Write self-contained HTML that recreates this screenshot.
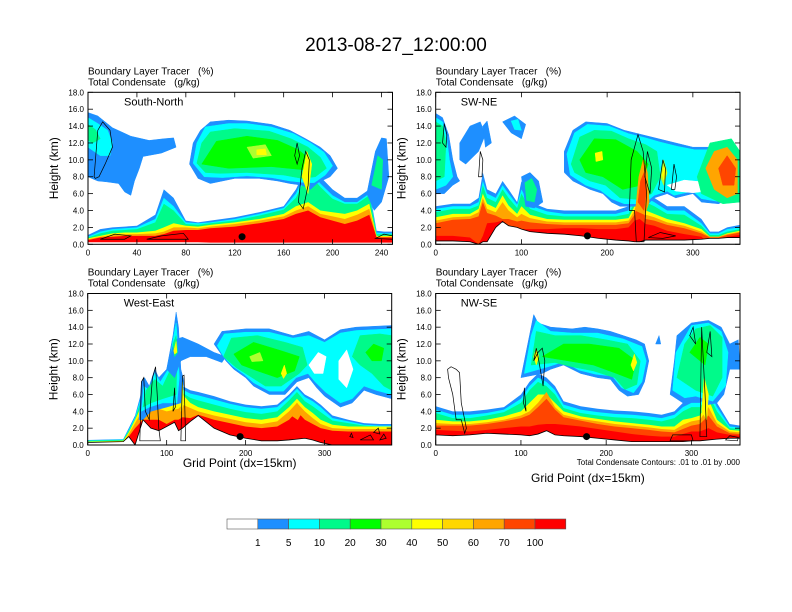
<!DOCTYPE html>
<html><head><meta charset="utf-8"><style>
body{margin:0;background:#fff;}
svg{display:block;font-family:"Liberation Sans",sans-serif;}
svg text{white-space:pre;}
</style></head><body>
<svg id="fig" width="792" height="612" viewBox="0 0 792 612">
<text x="396" y="51" font-size="19" text-anchor="middle">2013-08-27_12:00:00</text>
<g id="panels"></g>
<g id="colorbar"></g>
</svg>
<script>
const levelColors=["#ffffff","#1e8fff","#00ffff","#00fa8a","#00ff00","#adff2f","#ffff00","#ffd700","#ffa500","#ff4500","#ff0000"];
const cbLabels=["1","5","10","20","30","40","50","60","70","100"];
const yTicks=[0,2,4,6,8,10,12,14,16,18];

// ---- Panel 1: South-North ----
const p1Xs=[0,10,20,30,40,55,62,70,80,90,100,120,140,160,170,180,190,200,210,220,230,236,242,249];
const p1Terrain=[0.25,0.25,0.25,0.25,0.25,0.25,0.25,0.25,0.25,0.25,0.2,0.2,0.2,0.2,0.2,0.2,0.2,0.2,0.2,0.2,0.2,0.2,0.2,0.2];
const p1Blue=[1.1,1.8,2.0,2.1,2.2,3.5,6.5,5.5,2.8,2.6,2.8,3.2,3.8,4.5,6.5,9.5,8,6.5,5.5,5.5,6.5,1.6,1.5,1.5];
const p1Cyan=[0.9,1.5,1.8,1.9,2.0,3.0,5.5,4.5,2.6,2.5,2.6,3.0,3.6,4.3,6,9,7.2,5.8,5,5,6,1.4,1.3,1.3];
const p1Green=[0.8,1.3,1.6,1.7,1.8,2.6,4.8,4,2.4,2.3,2.5,2.8,3.4,4.1,5.5,8.5,6.8,5.4,4.8,4.8,5.8,1.2,1.2,1.2];
const p1Yellow=[0.7,1.0,1.3,1.4,1.4,1.6,2.0,2.5,2.2,2.1,2.3,2.6,3.0,3.6,4.5,5,4,3.8,3.6,4,4.8,1.0,1.0,1.0];
const p1Orange=[0.6,0.9,1.1,1.2,1.2,1.3,1.5,2.0,2.0,1.9,2.1,2.4,2.8,3.3,4.0,4.5,3.6,3.3,3.0,3.5,4.2,0.9,0.9,0.9];
const p1Red=[0.5,0.8,0.9,1.0,1.0,1.0,1.2,1.6,1.7,1.7,1.9,2.1,2.5,3.0,3.6,4,3.2,2.8,2.4,2.8,3.5,0.8,0.8,0.8];
const p1Clouds=[
 [1,[[0,15.6],[8,15.2],[20,13.8],[35,12.8],[50,12.3],[62,12.5],[70,12.6],[72,11.5],[60,10.8],[45,10.4],[42,9],[38,7.5],[35,5.8],[30,6.2],[25,7.2],[15,7.4],[8,7.5],[3,7.8],[0,8]]],
 [2,[[0,15],[8,14.3],[16,13.5],[20,12],[18,10.5],[10,10.5],[5,11],[0,11.5]]],
 [3,[[0,14.2],[6,13.6],[10,12.5],[4,12],[0,12.3]]],
 [1,[[83,9.5],[86,12],[92,13.5],[100,14.5],[115,14.7],[130,14.6],[150,14.2],[165,13.5],[178,12.5],[190,11.5],[198,10.5],[204,9],[198,8],[188,7.3],[182,6.5],[175,7],[165,7.2],[155,7.5],[140,7.8],[120,7.8],[100,7.2],[90,7.8]]],
 [2,[[86,9.6],[89,12],[96,13.9],[115,14.3],[130,14.3],[150,13.9],[168,13.1],[182,12],[193,10.9],[200,9.3],[194,8.2],[185,7.3],[178,7.3],[165,7.5],[150,7.9],[130,8.1],[110,7.9],[95,8]]],
 [3,[[89,9.6],[93,12],[100,13.3],[120,13.7],[148,13.4],[166,12.5],[180,11.5],[190,10.3],[195,9],[186,8],[175,7.8],[160,8.2],[130,8.5],[108,8.4],[96,8.5]]],
 [4,[[93,9.5],[105,12.2],[130,12.8],[155,12.3],[172,11.2],[182,10],[178,8.8],[150,9.2],[115,9]]],
 [5,[[130,11.5],[145,11.8],[150,10.5],[135,10.2]]],
 [6,[[138,11.2],[145,11.3],[146,10.6],[138,10.6]]],
 [1,[[228,6],[235,11],[240,12.6],[244,12.5],[246,8],[240,5],[234,4]]],
 [3,[[232,7],[237,10.5],[241,10],[240,6.5]]],
 [6,[[175,8],[179,11],[183,9.5],[180,6]]]
];
const p1Contours=[
 [[5,8],[8,13.5],[12,14.5],[18,13.5],[20,11.5],[14,9.5],[9,8],[6,7.8]],
 [[172,5],[175,9],[178,11],[181,10],[180,7],[176,4.2]],
 [[169,10.5],[171,12],[173,10.5],[171,9.5]],
 [[10,0.6],[22,1.2],[35,1.0],[30,0.6]],
 [[48,0.6],[60,1.0],[78,1.3],[82,0.6]],
 [[235,0.7],[242,1.2],[249,1.0],[249,0.6]]
];
const p1Dot=[126,0.9];

// ---- Panel 2: SW-NE ----
const p2Xs=[0,20,40,50,55,60,70,78,85,95,100,110,130,150,170,190,210,225,232,238,245,255,270,290,310,320,330,340,355];
const p2Terrain=[0.4,0.4,0.3,0,0.3,0.3,2.0,2.7,2.2,2.0,1.8,1.5,1.3,1.2,1.0,0.7,0.5,0.4,0.3,0.3,0.5,0.5,0.5,0.5,0.6,0.7,0.7,0.8,0.8];
const p2Blue=[4.5,4.8,4.8,5.5,8.5,6.5,6,7.5,6.5,5,7.5,5,4.2,4,4,4,4,4.5,6,9,6,5.5,4.5,4.5,3,1.5,1.5,2,2.3];
const p2Cyan=[4.2,4.5,4.5,5,7.5,6,5.5,7,6,4.7,6.5,4.6,3.9,3.6,3.6,3.6,3.6,4,5.5,8,5.5,5,4,4,2.5,1.3,1.3,1.8,2];
const p2Green=[3.8,4.2,4.2,4.6,7,5.5,5,6.5,5.5,4.3,6,4.2,3.5,3.3,3.3,3.3,3.3,3.6,5,7.5,5,4.5,3.6,3.5,2.2,1.1,1.1,1.5,1.8];
const p2Yellow=[3.2,3.6,3.6,4.2,6,4.8,4.3,5.8,4.6,3.6,4.5,3.5,3,2.9,2.9,2.9,2.9,3.1,4.5,7,4,3.6,3,2.5,1.8,0.9,0.9,1.3,1.6];
const p2Orange=[2.8,3.2,3.3,3.8,5.5,4.2,3.8,5,4,3.2,3.6,3.1,2.7,2.6,2.6,2.6,2.6,2.8,4,6.5,3.5,3.2,2.6,2.2,1.5,0.9,0.9,1.2,1.5];
const p2OrRed=[2.5,2.9,3,3.3,5,3.7,3.4,3,3,2.7,2.8,2.6,2.4,2.3,2.3,2.3,2.3,2.5,3.5,6,3,2.8,2.3,1.9,1.3,0.8,0.8,1.1,1.4];
const p2Red=[1,1,0.8,0,1,2.5,2.6,2.8,2.2,2,1.8,1.8,1.8,1.9,1.9,1.8,1.8,2,2.8,3,2.4,2.2,1.6,1.2,0.9,0,0,0.9,1.1];
const p2Clouds=[
 [1,[[0,15.5],[8,15],[15,13],[20,10],[25,8],[28,7.5],[20,7],[10,6],[0,6]]],
 [2,[[0,15],[8,14.5],[13,12.5],[16,10],[20,8],[12,7],[0,6.5]]],
 [3,[[0,14.5],[8,14],[12,12],[10,8],[0,7.5]]],
 [1,[[28,12],[40,14],[52,14.5],[58,13],[50,11],[35,9.5],[28,10]]],
 [1,[[55,14],[60,14.6],[65,12],[58,11.5]]],
 [1,[[78,14.5],[92,15.2],[105,14.2],[100,12.5],[88,13.2]]],
 [2,[[88,14.6],[96,14.8],[100,13.5],[92,13.6]]],
 [1,[[100,8],[110,8.5],[120,7.5],[125,5],[115,4.3],[105,4.5]]],
 [3,[[104,7.3],[112,7.8],[118,6.5],[115,5],[106,5.2]]],
 [1,[[150,11],[160,13.5],[175,14.5],[200,14.3],[220,13.5],[240,13],[260,12.5],[280,12],[300,11.5],[320,11.5],[335,12],[350,11.5],[355,8],[345,5.5],[330,4.8],[310,5],[300,6],[280,5.5],[270,6],[255,5.5],[245,4.5],[230,4.5],[215,4.5],[205,5],[195,6],[180,6.5],[160,7.5],[150,8.5]]],
 [2,[[153,10.7],[162,13.2],[177,14.2],[202,14],[225,13.1],[245,12.6],[262,12.1],[282,11.6],[302,11.2],[325,11.2],[350,11],[353,7.5],[343,5.7],[328,5.1],[310,5.4],[300,6.3],[278,5.8],[270,6.3],[255,5.8],[243,4.8],[220,4.8],[205,5.4],[192,6.4],[175,7],[157,8.2]]],
 [0,[[270,7],[290,7.6],[320,7.3],[332,6.5],[300,6.1],[280,6.3]]],
 [3,[[158,9.5],[168,12.7],[185,13.5],[205,13.4],[225,12.5],[245,11.8],[258,11],[262,8],[252,6],[238,5.3],[215,5.5],[198,7],[180,7.5],[162,8.5]]],
 [4,[[168,10],[185,12.5],[210,12.4],[235,11],[248,9.5],[240,7],[218,6.5],[195,8],[175,8.5]]],
 [6,[[186,10.8],[194,11],[195,10],[187,9.8]]],
 [3,[[305,8],[320,12],[345,12.5],[355,11],[355,5],[335,4.8],[310,6]]],
 [8,[[315,9],[325,11],[340,11.5],[352,10],[352,6],[340,5.5],[325,6.5]]],
 [9,[[330,9],[340,10.5],[350,9],[348,7],[335,7]]],
 [8,[[233,4],[237,8],[242,10],[247,8.5],[249,5],[244,3.5]]],
 [9,[[236,5],[239,7.5],[243,8.5],[246,6.5],[243,4]]],
 [5,[[262,8],[266,10],[270,8.5],[266,7]]],
 [6,[[264,8.3],[267,9.5],[269,8.3],[266,7.6]]]
];
const p2Contours=[
 [[8,12],[10,14.3],[13,13],[12,11.5]],
 [[50,8],[52,11],[55,10],[54,8]],
 [[226,4],[228,10],[236,13],[242,11],[246,6],[243,0.3],[234,0.3],[232,4]],
 [[244,8],[247,11],[252,9],[250,6]],
 [[260,6.5],[265,10],[268,9],[267,6.2]],
 [[275,6.5],[278,9.5],[281,8],[279,6.5]],
 [[248,0.8],[262,1.4],[280,1.0],[265,0.7]]
];
const p2Dot=[177,1.0];

// ---- Panel 3: West-East ----
const p3Xs=[0,45,52,60,70,80,90,100,110,115,120,130,140,160,180,200,220,240,255,265,275,285,295,310,330,350,370,385];
const p3Terrain=[0.3,0.4,1.0,0.0,3.0,2.0,1.7,2.2,2.7,1.7,2.0,2.8,3.5,2.0,1.2,0.8,0.5,0.5,0.6,0.7,0.8,0.6,0.3,0,0,0,0,0];
const p3Blue=[0.6,0.7,2,3.5,7,7,8,5.5,8,8.5,7,6.5,6.3,5.8,5.2,4.8,4.6,4.8,6,7,6,5.5,4.8,3.5,3,2.6,2.5,2.5];
const p3Cyan=[0.55,0.65,1.8,3.3,6.5,6.5,7.5,5.2,7.5,8,6.6,6.1,5.9,5.4,4.9,4.5,4.3,4.5,5.7,6.7,5.7,5.2,4.5,3.2,2.8,2.4,2.3,2.3];
const p3Green=[0.5,0.6,1.7,3.1,6,6,6.8,4.9,6.5,7,6.2,5.6,5.3,4.8,4.3,3.9,3.7,4,5.3,6.3,5.2,4.6,3.9,2.9,2.6,2.3,2.2,2.2];
const p3Yellow=[0.4,0.5,1.5,3,5,5,5,4.5,5,5,6,5,4.5,4,3.6,3.2,3.0,3.3,4.5,5.5,4.5,3.8,3,2.4,2.2,2.2,2.2,2.2];
const p3Orange=[0.3,0.4,1.3,2.6,4.2,4.2,4.3,4,4.2,4.3,4.8,4.4,4,3.5,3.1,2.7,2.5,2.8,4,5,4,3.2,2.5,2.0,1.9,1.9,1.9,1.9];
const p3Red=[0,0,1,2,3,3,3,2.5,3,3,3.3,3.2,3.6,3,2.6,2.2,2,2.2,3,4,3,2.5,2.0,1.7,1.6,1.6,1.6,1.6];
const p3Clouds=[
 [1,[[65,3],[68,7.5],[72,8],[78,7],[85,9],[90,8],[100,9],[108,13],[112,15.8],[115,14],[118,9],[122,7.5],[118,5],[100,4.5],[80,4],[70,3]]],
 [2,[[68,4],[71,7],[78,6.5],[85,8.5],[92,7.5],[102,9],[108,12.5],[112,14.5],[114,12],[116,8],[113,5],[95,5],[78,4.5]]],
 [3,[[70,4.5],[74,6.5],[85,7.8],[95,7],[105,9],[110,12],[113,10],[112,6],[95,5.5],[80,5]]],
 [1,[[100,9],[110,12.5],[120,12.8],[140,12],[160,11],[175,10.5],[170,9.8],[150,10.5],[130,10.5],[118,10],[110,8]]],
 [1,[[160,12],[170,13.5],[200,13.8],[230,13.8],[260,13],[280,13.5],[300,12.5],[320,13.7],[340,14],[385,14.2],[385,5.5],[365,6],[350,6.5],[335,5],[320,4.5],[300,5.8],[290,6.8],[280,8],[265,7.5],[250,6],[230,6],[210,7],[200,8],[185,9],[175,10]]],
 [2,[[164,11.8],[173,13.2],[200,13.4],[230,13.4],[260,12.7],[280,13],[300,12.2],[320,13.3],[340,13.6],[385,13.8],[385,6],[365,6.5],[350,7],[335,5.5],[320,5],[301,6.3],[288,7.5],[279,8.5],[264,8],[248,6.4],[230,6.4],[210,7.4],[198,8.4],[183,9.4],[172,10.5]]],
 [0,[[280,9.5],[292,11],[302,10.5],[298,8.5],[287,8.5]]],
 [0,[[318,10],[328,11.3],[336,9],[328,6.8],[318,7.8]]],
 [3,[[172,10.5],[182,12.7],[215,13],[250,12.2],[272,11.6],[278,9.5],[268,8.5],[245,7],[225,7],[205,8.2],[188,9.2]]],
 [4,[[185,10.8],[210,12.2],[245,11.2],[268,10.5],[262,8.8],[240,8],[215,8.8],[195,9.5]]],
 [5,[[205,10.5],[218,11],[222,10],[208,9.9]]],
 [6,[[245,8.5],[249,9.5],[252,8.5],[248,7.9]]],
 [3,[[335,10.5],[345,13],[370,13.2],[385,13],[385,6.5],[375,7],[360,8.5],[345,9.5]]],
 [4,[[352,11],[362,12],[375,11.5],[372,10],[360,10]]],
 [3,[[108,12],[112,13],[114,11],[110,10.5]]],
 [6,[[109,11.2],[112,12.3],[113,11],[110,10.8]]],
 [6,[[118,4],[120,7.5],[122,5]]],
 [8,[[258,3.5],[265,5],[272,4],[266,3]]]
];
const p3Contours=[
 [[66,0.5],[68,7.5],[71,8],[73,4],[78,3],[82,8],[86,9.3],[88,6],[90,2],[92,0.5]],
 [[118,0.5],[120,8.2],[122,8.3],[124,0.5]],
 [[108,4],[110,6.8],[111,4.5]],
 [[332,1],[334,1.4],[336,0.9]],
 [[345,0.6],[358,1.2],[362,0.6]],
 [[362,1.5],[368,2],[370,1.3]],
 [[370,0.6],[375,1.3],[378,0.8]]
];
const p3Dot=[193,1.0];

// ---- Panel 4: NW-SE ----
const p4Xs=[0,20,40,60,80,100,110,120,130,140,150,170,190,210,230,250,265,280,290,300,310,320,330,345,357];
const p4Terrain=[1.2,1.1,1.2,1.4,1.3,1.2,1.1,1.3,1.7,1.2,1.1,1.0,0.8,0.6,0.4,0.4,0.4,0.4,0.4,0.5,0.5,0.6,0.7,0.8,0.8];
const p4Blue=[4.6,4,4,4.2,4.5,6,7.5,8.5,8,7,5.2,4.6,4.3,4.1,4.0,3.8,3.6,4.0,5,5.5,5.5,7,5,2.5,2.3];
const p4Cyan=[4.2,3.6,3.6,3.8,4.2,5.5,7,8,7.5,6.5,4.8,4.2,3.9,3.7,3.6,3.4,3.2,3.6,4.5,5,5,6.5,4.5,2.2,2.1];
const p4Green=[3.8,3.2,3.2,3.5,3.9,5,6.5,7.5,7,6,4.4,3.8,3.5,3.3,3.2,3.0,2.8,3.2,4,4.5,4.5,6,4,2,1.9];
const p4Yellow=[3,2.8,2.8,3.0,3.4,4,5,6,6,5,4,3.4,3.1,2.8,2.6,2.4,2.2,2.2,3,3.2,3.5,5.5,3,1.8,1.7];
const p4Orange=[2.6,2.5,2.5,2.7,3.0,3.5,4,5,6.3,4.5,3.6,3.1,2.8,2.5,2.3,2.1,1.9,1.8,2.4,2.8,3,4.5,2.6,1.6,1.5];
const p4OrRed=[2.3,2.3,2.3,2.5,2.8,3.2,3.6,4.5,5.5,4.2,3.3,2.9,2.5,2.2,2.0,1.8,1.6,1.5,1.9,2.3,2.5,3.5,2.2,1.4,1.3];
const p4Red=[1.8,1.7,1.6,1.8,2,2.2,2.2,2.4,2.5,2.5,2.4,2.2,1.9,1.6,1.3,1.1,1.0,1.0,1.3,1.6,1.6,2,1.5,1.2,1.1];
const p4Clouds=[
 [1,[[100,8],[110,13],[115,15.5],[120,14.5],[135,14],[160,13.8],[175,14],[190,13.8],[205,13.5],[220,13],[235,12.5],[245,12],[250,10],[245,7.5],[238,6],[225,5.8],[215,6.5],[205,7.8],[190,8],[170,8.5],[150,9.5],[135,9],[125,8.5]]],
 [2,[[104,8.5],[112,13],[118,14.8],[135,13.5],[160,13.3],[190,13.3],[220,12.6],[242,11.7],[247,10],[242,7.5],[232,6.2],[218,6.8],[207,8.2],[188,8.4],[168,8.9],[150,9.9],[132,9.3]]],
 [3,[[112,9.5],[118,13.5],[140,13],[170,13],[200,12.5],[225,12],[240,10],[236,7.2],[222,6.6],[210,8],[185,8.8],[160,9.3],[140,9.8]]],
 [4,[[125,10.5],[150,12],[180,12],[215,11.5],[235,10],[230,7.8],[212,8.5],[185,9.5],[155,10]]],
 [6,[[115,10.5],[118,11.5],[121,10.5],[118,9.5]]],
 [6,[[229,9.5],[233,10.8],[236,9.8],[232,8.8]]],
 [1,[[275,6],[280,10],[283,13],[300,14.5],[320,14.8],[335,14],[345,12],[355,12.5],[357,9],[345,9],[338,6],[330,5],[320,4.8],[305,5.5],[290,5]]],
 [2,[[278,6.5],[282,11],[300,14.2],[320,14.5],[335,13.5],[343,11],[340,7],[325,5.2],[305,5.8],[292,5.6]]],
 [3,[[283,8],[292,12],[305,13.8],[322,14.2],[336,12.8],[336,8],[325,5.8],[305,6.5]]],
 [4,[[298,11],[310,12.8],[320,12],[316,9.5]]],
 [6,[[312,4],[315,8],[320,6],[318,3]]],
 [1,[[258,12],[262,13],[264,12]]]
];
const p4Contours=[
 [[14,9],[18,9.3],[24,9],[28,8.6],[30,5],[36,2],[34,1.4],[30,3],[24,3],[20,6],[15,8]],
 [[115,10],[118,11.5],[121,10],[126,7],[128,10],[125,11.5],[120,11]],
 [[103,5],[104,6.8],[106,4]],
 [[298,13],[302,14],[305,12]],
 [[310,1],[312,14],[316,6],[318,1]],
 [[318,11],[322,13.5],[324,10.5]],
 [[275,0.5],[278,1.2],[300,1.2],[302,0.5]],
 [[340,0.6],[345,1.1],[355,0.9],[354,0.5]]
];
const p4Dot=[177,1.0];

const panels=[
 {name:"south-north",label:"South-North",x0:88,y0:92.3,w:304.5,h:152,xmax:249,xt:[0,40,80,120,160,200,240],xs:p1Xs,terr:p1Terrain,
  layers:[[1,p1Blue],[2,p1Cyan],[3,p1Green],[6,p1Yellow],[8,p1Orange],[10,p1Red]],clouds:p1Clouds,cont:p1Contours,dot:p1Dot,tline:false,xtitle:false},
 {name:"sw-ne",label:"SW-NE",x0:435.7,y0:92.3,w:304.3,h:152,xmax:355,xt:[0,100,200,300],xs:p2Xs,terr:p2Terrain,
  layers:[[1,p2Blue],[2,p2Cyan],[3,p2Green],[6,p2Yellow],[8,p2Orange],[9,p2OrRed],[10,p2Red]],clouds:p2Clouds,cont:p2Contours,dot:p2Dot,tline:true,xtitle:false},
 {name:"west-east",label:"West-East",x0:87.7,y0:293.5,w:304,h:151.5,xmax:385,xt:[0,100,200,300],xs:p3Xs,terr:p3Terrain,
  layers:[[1,p3Blue],[2,p3Cyan],[3,p3Green],[6,p3Yellow],[8,p3Orange],[10,p3Red]],clouds:p3Clouds,cont:p3Contours,dot:p3Dot,tline:true,xtitle:467},
 {name:"nw-se",label:"NW-SE",x0:435.7,y0:293.5,w:304.3,h:151.5,xmax:357,xt:[0,100,200,300],xs:p4Xs,terr:p4Terrain,
  layers:[[1,p4Blue],[2,p4Cyan],[3,p4Green],[6,p4Yellow],[8,p4Orange],[9,p4OrRed],[10,p4Red]],clouds:p4Clouds,cont:p4Contours,dot:p4Dot,tline:true,xtitle:482}
];
const NS="http://www.w3.org/2000/svg";
function mk(tag,attrs,parent){const e=document.createElementNS(NS,tag);for(const k in attrs)e.setAttribute(k,attrs[k]);if(parent)parent.appendChild(e);return e;}
const root=document.getElementById("panels");
panels.forEach((p,pi)=>{
 const sx=v=>p.x0+v/p.xmax*p.w, sy=v=>p.y0+p.h-v/18*p.h;
 const g=mk("g",{},root);
 
 
 const cp=mk("clipPath",{id:"cp"+pi},g);mk("rect",{x:p.x0,y:p.y0,width:p.w,height:p.h},cp);
 const plot=mk("g",{"clip-path":"url(#cp"+pi+")"},g);
 
 
 p.layers.forEach(([lv,tops])=>{
  let d="M"+sx(p.xs[0])+","+sy(0);
  p.xs.forEach((x,i)=>{d+=" L"+sx(x)+","+sy(tops[i]);});
  d+=" L"+sx(p.xs[p.xs.length-1])+","+sy(0)+"Z";
  const e=mk("path",{d:d,fill:levelColors[lv]},plot);
  
  
 });
 p.clouds.forEach(([lv,pts])=>{
  const e=mk("polygon",{points:pts.map(q=>sx(q[0])+","+sy(q[1])).join(" "),fill:levelColors[lv],"stroke":levelColors[lv],"stroke-width":"0.5"},plot);
  
  
 });
 let td="M"+sx(p.xs[0])+","+sy(0);
 p.xs.forEach((x,i)=>{td+=" L"+sx(x)+","+sy(p.terr[i]);});
 td+=" L"+sx(p.xs[p.xs.length-1])+","+sy(0)+"Z";
 const te=mk("path",{d:td,fill:"#fff",stroke:p.tline?"#000":"none","stroke-width":"0.8"},plot);
 
 
 p.cont.forEach(pts=>{
  const e=mk("polygon",{points:pts.map(q=>sx(q[0])+","+sy(q[1])).join(" "),fill:"none",stroke:"#000","stroke-width":"0.7"},plot);
  
  
 });
 const dot=mk("circle",{cx:sx(p.dot[0]),cy:sy(p.dot[1]),r:3.5,fill:"#000"},plot);
 
 
 const fr=mk("rect",{x:p.x0,y:p.y0,width:p.w,height:p.h,fill:"none",stroke:"#000","stroke-width":"1"},g);
 
 
 yTicks.forEach(v=>{
  mk("line",{x1:p.x0,x2:p.x0+5,y1:sy(v),y2:sy(v),stroke:"#000","stroke-width":"0.8"},g);
  mk("line",{x1:p.x0+p.w,x2:p.x0+p.w-5,y1:sy(v),y2:sy(v),stroke:"#000","stroke-width":"0.8"},g);
  const t=mk("text",{x:p.x0-4,y:sy(v)+3,"font-size":"8","text-anchor":"end"},g);t.textContent=v.toFixed(1);
  
  
 });
 p.xt.forEach(v=>{
  mk("line",{x1:sx(v),x2:sx(v),y1:p.y0+p.h,y2:p.y0+p.h-5,stroke:"#000","stroke-width":"0.8"},g);
  mk("line",{x1:sx(v),x2:sx(v),y1:p.y0,y2:p.y0+5,stroke:"#000","stroke-width":"0.8"},g);
  const t=mk("text",{x:sx(v),y:p.y0+p.h+11,"font-size":"8","text-anchor":"middle"},g);t.textContent=String(v);
  
  
 });
 const yt=mk("text",{x:0,y:0,"font-size":"12","text-anchor":"middle",transform:"translate("+(p.x0-30)+","+(p.y0+p.h/2)+") rotate(-90)"},g);
 yt.textContent="Height (km)";
 
 
 const h1=mk("text",{x:p.x0,y:p.y0-18,"font-size":"10"},g);h1.textContent="Boundary Layer Tracer   (%)";
 
 
 const h2=mk("text",{x:p.x0,y:p.y0-7,"font-size":"10"},g);h2.textContent="Total Condensate   (g/kg)";
 
 
 const lb=mk("text",{x:p.x0+(pi%2?25:36),y:p.y0+13,"font-size":"11"},g);lb.textContent=p.label;
 
 
 if(p.xtitle){
  const xtt=mk("text",{x:p.x0+p.w/2,y:p.xtitle,"font-size":"12","text-anchor":"middle"},g);xtt.textContent="Grid Point (dx=15km)";
  
  
 }
});
const ci=mk("text",{x:740,y:465,"font-size":"8","text-anchor":"end"},root);
ci.textContent="Total Condensate Contours: .01 to .01 by .000";


const cb=document.getElementById("colorbar");
const cbx=227,cbw=30.8;
levelColors.forEach((c,i)=>{
 const r=mk("rect",{x:cbx+i*cbw,y:519,width:cbw,height:10,fill:c,stroke:"#555","stroke-width":"0.6"},cb);
 
 
});
cbLabels.forEach((s,i)=>{
 const t=mk("text",{x:cbx+(i+1)*cbw,y:546,"font-size":"10","text-anchor":"middle"},cb);t.textContent=s;
 
 
});
</script>
</body></html>
